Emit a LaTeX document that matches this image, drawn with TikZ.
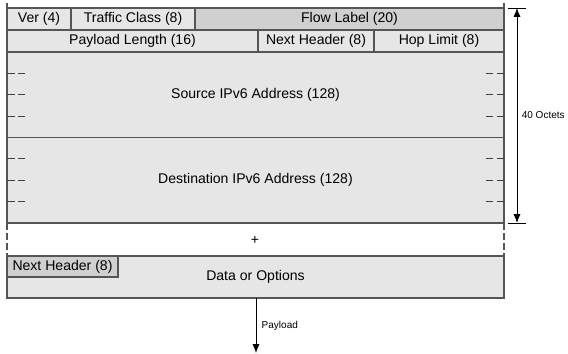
\documentclass[tikz,border=0pt]{standalone}
\usepackage{fontspec}
\setmainfont{Liberation Sans}
\usetikzlibrary{arrows.meta}
\tikzstyle{header} = [x = .02cm, y = -.02cm]
\definecolor{fieldLight}{HTML}{E6E6E6}
\definecolor{fieldDark}{HTML}{D0D0D0}
\definecolor{lineColor}{HTML}{555555}
\tikzstyle{fieldStyle} = [draw=lineColor, fill=fieldLight, line width=.6pt]
\tikzstyle{fieldDarkStyle} = [fieldStyle, fill=fieldDark]
\tikzstyle{mainText} = [font=\fontsize{8}{9}\selectfont, inner sep=0pt]
\tikzstyle{fieldText} = [mainText, midway]
\tikzstyle{smallText} = [font=\fontsize{5.7}{7}\selectfont, inner sep=1pt]
\tikzstyle{dashStyle} = [color=black!75, line width=.6pt]
\tikzstyle{gapLine} = [color=lineColor, line width=.6pt, dash pattern=on 4pt off 1.7pt]
\tikzstyle{dimLine} = [color=black, line width=.5pt]
\tikzstyle{dimArrow} = [dimLine, {Latex[length=5pt,width=4pt]}-{Latex[length=5pt,width=4pt]}]
\tikzstyle{payloadArrow} = [dimLine, -{Latex[length=5pt,width=4pt]}]
\newcommand{\field}[7]{\filldraw [#6] (#2, #3) rectangle (#4, #5) node [fieldText] (#1) {#7};}
\newcommand{\sideDashes}[2]{
  \foreach \row in {1,2,3} {
    \pgfmathsetmacro{\var}{#1 + \row * (#2 - #1) / 4}
    \draw [dashStyle] (7, \var) -- + (8, 0) (18, \var) -- + (7, 0);
    \draw [dashStyle] (486, \var) -- + (7, 0) (497, \var) -- + (7, 0);
  }
}

\begin{document}
\begin{tikzpicture}[header]
  \useasboundingbox (0, 0) rectangle (568, 354);
  \field{ver}{7}{8}{71}{30}{fieldStyle}{Ver (4)}
  \field{trafficClass}{71}{8}{195}{30}{fieldStyle}{Traffic Class (8)}
  \field{flowLabel}{195}{8}{504}{30}{fieldDarkStyle}{Flow Label (20)}
  \field{payloadLength}{7}{30}{258}{52}{fieldStyle}{Payload Length (16)}
  \field{nextHeader}{258}{30}{374}{52}{fieldStyle}{Next Header (8)}
  \field{hopLimit}{374}{30}{504}{52}{fieldStyle}{Hop Limit (8)}
  \field{source}{7}{52}{504}{137.5}{fieldStyle}{Source IPv6 Address (128)}
  \field{destination}{7}{137.5}{504}{223}{fieldStyle}{Destination IPv6 Address (128)}
  \sideDashes{52}{137.5}
  \sideDashes{137.5}{223}
  \draw [fieldStyle] (7, 3) -- (7, 8) (504, 3) -- (504, 8);
  \draw [gapLine] (7, 223) -- (7, 256) (504, 223) -- (504, 256);
  \node [mainText] (plus) at (255, 240) {+};
  \field{data}{7}{256}{504}{298}{fieldStyle}{\raisebox{-3pt}{Data or Options}}
  \field{dataNextHeader}{7}{256}{118}{277}{fieldDarkStyle}{Next Header (8)}
  \draw [dimLine] (508, 8) -- (526, 8) (508, 223) -- (526, 223);
  \coordinate (octetsTop) at (517, 8);
  \coordinate (octetsBottom) at (517, 223);
  \draw [dimArrow] (octetsTop) -- (octetsBottom) node [smallText, midway, right=1.5pt] (octets) {40 Octets};
  \coordinate (dataBottom) at (256, 298);
  \coordinate (payloadEnd) at (256, 353);
  \draw [payloadArrow] (dataBottom) -- (payloadEnd) node [smallText, midway, right=2pt] (payload) {Payload};
\end{tikzpicture}
\end{document}
